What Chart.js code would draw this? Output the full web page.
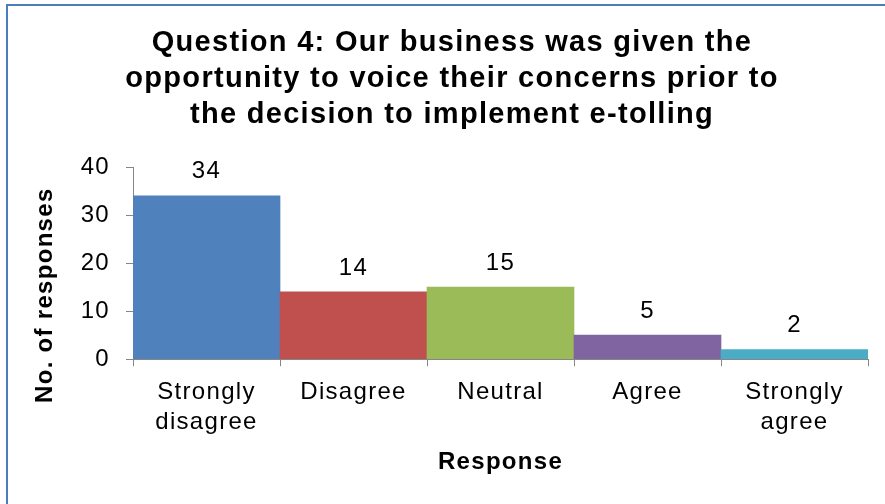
<!DOCTYPE html>
<html>
<head>
<meta charset="utf-8">
<script src="https://cdn.jsdelivr.net/npm/chart.js@4"></script>
<style>
  html, body { margin: 0; padding: 0; background: #fff; overflow: hidden; }
  .frame { position: absolute; left: 6px; top: 4px; width: 1200px; height: 800px; border: 2px solid #4A7EBB; box-sizing: border-box; }
  .wrap { position: absolute; left: 0; top: 0; width: 885px; height: 504px; }
</style>
</head>
<body>
<div class="frame"></div>
<div class="wrap"><canvas id="chart" width="885" height="504"></canvas></div>
<script>
// survey answers for question 4
const categories = [['Strongly', 'disagree'], 'Disagree', 'Neutral', 'Agree', ['Strongly', 'agree']];
const responses = [34, 14, 15, 5, 2];
const yTicks = [0, 10, 20, 30, 40];

const COLORS = ['#4F81BD', '#C0504D', '#9BBB59', '#8064A2', '#4BACC6'];
const FONT = "'Liberation Sans', Arial, sans-serif";
const SPACING = '1.3px';

// canvas resets its state on resize, so keep the spacing applied
const spacing = {
  id: 'spacing',
  beforeUpdate(chart) { chart.ctx.letterSpacing = SPACING; },
  beforeLayout(chart) { chart.ctx.letterSpacing = SPACING; },
  beforeDraw(chart) { chart.ctx.letterSpacing = SPACING; }
};

// value above each bar
const valueLabels = {
  id: 'valueLabels',
  afterDatasetsDraw(chart) {
    const { ctx } = chart;
    const meta = chart.getDatasetMeta(0);
    ctx.save();
    ctx.font = '24px ' + FONT;
    ctx.fillStyle = '#000';
    ctx.textAlign = 'center';
    ctx.textBaseline = 'middle';
    meta.data.forEach((bar, i) => {
      ctx.fillText(String(responses[i]), bar.x, bar.y - 24);
    });
    ctx.restore();
  }
};

// y axis title, sitting a bit lower than the scale centre
const yTitle = {
  id: 'yTitle',
  afterDraw(chart) {
    const { ctx } = chart;
    const y = chart.scales.y;
    ctx.save();
    ctx.font = 'bold 24px ' + FONT;
    ctx.fillStyle = '#000';
    ctx.textAlign = 'center';
    ctx.textBaseline = 'middle';
    ctx.translate(45, y.getPixelForValue(0) - 64);
    ctx.rotate(-Math.PI / 2);
    ctx.fillText('No. of responses', 0, 0);
    ctx.restore();
  }
};

new Chart(document.getElementById('chart'), {
  type: 'bar',
  data: {
    labels: categories,
    datasets: [{
      data: responses,
      backgroundColor: COLORS,
      barPercentage: 1,
      categoryPercentage: 1
    }]
  },
  options: {
    responsive: false,
    animation: false,
    layout: { padding: { left: 36, right: 17, top: 0, bottom: 27 } },
    plugins: {
      legend: { display: false },
      tooltip: { enabled: false },
      title: {
        display: true,
        text: [
          'Question 4: Our business was given the',
          'opportunity to voice their concerns prior to',
          'the decision to implement e-tolling'
        ],
        color: '#000',
        font: { family: FONT, size: 29, weight: 'bold', lineHeight: 36 / 29 },
        padding: { top: 25, bottom: 34 }
      }
    },
    scales: {
      x: {
        grid: { offset: true, drawOnChartArea: false, drawTicks: true, tickLength: 7, color: '#868686' },
        border: { color: '#868686' },
        ticks: { color: '#000', padding: 11, maxRotation: 0, font: { family: FONT, size: 24, lineHeight: 30 / 24 } },
        title: {
          display: true,
          text: 'Response',
          color: '#000',
          font: { family: FONT, size: 24, weight: 'bold', lineHeight: 1.2 },
          padding: { top: 0, bottom: 0 }
        }
      },
      y: {
        min: 0,
        max: 40,
        afterFit(scale) { scale.width = 97; },
        afterBuildTicks(scale) { scale.ticks = yTicks.map(v => ({ value: v })); },
        grid: { drawOnChartArea: false, drawTicks: true, tickLength: 7, color: '#868686' },
        border: { color: '#868686' },
        ticks: { color: '#000', padding: 16, font: { family: FONT, size: 24 } }
      }
    }
  },
  plugins: [spacing, valueLabels, yTitle]
});
</script>
</body>
</html>
